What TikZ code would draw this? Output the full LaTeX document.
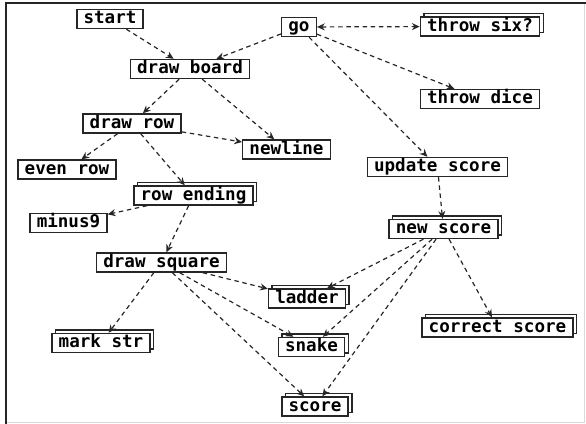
\documentclass[tikz,border=0pt]{standalone}
\usepackage{fontspec}
\setmonofont{DejaVu Sans Mono}
\usetikzlibrary{arrows.meta,shadows}
\begin{document}
\begin{tikzpicture}[
	box/.style={shape=rectangle, draw=black!85, line width=1pt, fill=white, font=\ttfamily\bfseries\fontsize{12.5}{12.5}\selectfont, inner xsep=4.8pt, inner ysep=0pt, text height=0.82em, text depth=0.12em, minimum height=0.475cm},
	stackbox/.style={box, copy shadow={shadow xshift=0.09cm, shadow yshift=0.09cm}},
	link/.style={draw, black!85, line width=0.85pt, dash pattern=on 3.2pt off 2.6pt, -{Stealth[length=5.5pt, width=5pt]}}]
	% Frame:
	\useasboundingbox (0, 0) rectangle (14.65, 10.6);
	\draw[line width=0.6pt, black!15] (0.16, 0.05) -- (14.62, 0.05) -- (14.62, 10.52);
	\draw[line width=1.4pt, black!85] (0.16, 0) -- (0.16, 10.52) -- (14.65, 10.52);
	% Nodes:
	\node[box] (start) at (2.75, 10.125){start};
	\node[box] (go) at (7.475, 9.925){go};
	\node[stackbox] (throwsix) at (12.0, 9.94){throw six?};
	\node[box] (drawboard) at (4.75, 8.875){draw board};
	\node[box] (throwdice) at (12.0, 8.125){throw dice};
	\node[box] (drawrow) at (3.3, 7.5125){draw row};
	\node[box] (newline) at (7.1625, 6.8625){newline};
	\node[box] (evenrow) at (1.675, 6.3625){even row};
	\node[box] (updatescore) at (10.9375, 6.425){update score};
	\node[stackbox] (rowending) at (4.8375, 5.7125){row ending};
	\node[box] (minusnine) at (1.7125, 5.025){minus9};
	\node[stackbox] (newscore) at (11.0875, 4.875){new score};
	\node[box] (drawsquare) at (4.0375, 4.0375){draw square};
	\node[stackbox] (ladder) at (7.675, 3.1375){ladder};
	\node[stackbox] (correctscore) at (12.4375, 2.4125){correct score};
	\node[stackbox] (markstr) at (2.525, 2.025){mark str};
	\node[stackbox] (snake) at (7.7875, 1.925){snake};
	\node[stackbox] (score) at (7.875, 0.4375){score};
	% Links:
	\draw[link] (start) -- (drawboard);
	\draw[link] (go) -- (drawboard);
	\draw[link, {Stealth[length=5.5pt, width=5pt]}-{Stealth[length=5.5pt, width=5pt]}] (go) -- (throwsix);
	\draw[link] (go) -- (throwdice);
	\draw[link] (go) -- (updatescore);
	\draw[link] (drawboard) -- (drawrow);
	\draw[link] (drawboard) -- (newline);
	\draw[link] (drawrow) -- (newline);
	\draw[link] (drawrow) -- (evenrow);
	\draw[link] (drawrow) -- (rowending);
	\draw[link] (rowending) -- (minusnine);
	\draw[link] (rowending) -- (drawsquare);
	\draw[link] (updatescore) -- (newscore);
	\draw[link] (newscore) -- (ladder);
	\draw[link] (newscore) -- (snake);
	\draw[link] (newscore) -- (score);
	\draw[link] (newscore) -- (correctscore);
	\draw[link] (drawsquare) -- (ladder);
	\draw[link] (drawsquare) -- (markstr);
	\draw[link] (drawsquare) -- (snake);
	\draw[link] (drawsquare) -- (score);
\end{tikzpicture}
\end{document}
